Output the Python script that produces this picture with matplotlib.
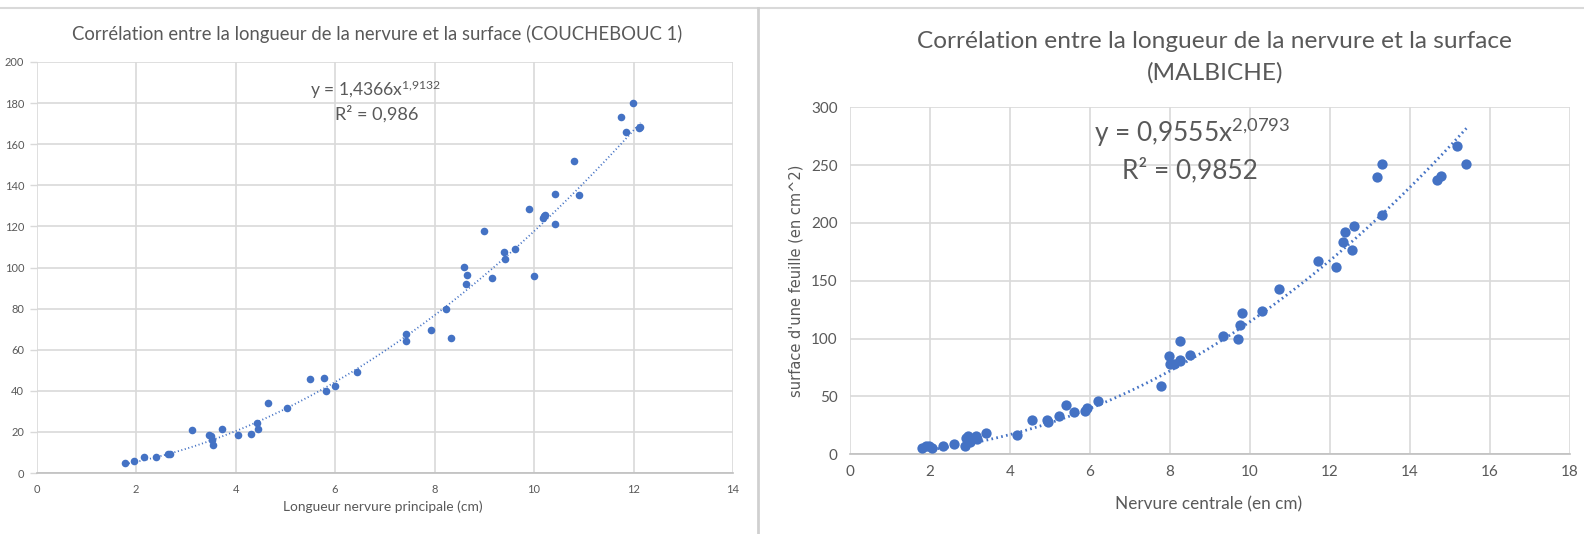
import numpy as np
import matplotlib
matplotlib.use("Agg")
import matplotlib.pyplot as plt
from matplotlib.lines import Line2D

# ---------------- data ----------------
x_couche = [1.78, 1.96, 2.15, 2.40, 2.63, 2.68, 3.13, 3.46, 3.51, 3.52, 3.54, 3.72,
            4.04, 4.31, 4.42, 4.44, 4.66, 5.04, 5.49, 5.78, 5.81, 6.00, 6.45, 7.43,
            7.43, 7.92, 8.22, 8.33, 8.60, 8.64, 8.66, 8.99, 9.16, 9.40, 9.42, 9.61,
            9.90, 9.99, 10.17, 10.20, 10.23, 10.43, 10.43, 10.81, 10.90, 11.75, 11.84,
            11.99, 12.12, 12.14]
y_couche = [5.0, 5.8, 8.0, 8.0, 9.3, 9.3, 20.7, 18.6, 18.1, 16.0, 13.6, 21.4,
            18.6, 19.2, 24.4, 21.4, 34.3, 31.5, 45.6, 46.4, 39.9, 42.1, 49.2, 67.6,
            64.1, 69.8, 79.9, 65.6, 100.4, 91.8, 96.3, 117.6, 94.8, 107.5, 103.9, 108.9,
            128.3, 96.1, 123.9, 124.9, 125.4, 136.0, 121.0, 151.6, 135.4, 173.0, 166.0,
            180.1, 168.0, 168.3]
coef_couche, expo_couche = 1.4366, 1.9132
eq_couche = r"y = 1,4366x$^{1{,}9132}$"
r2_couche = "R² = 0,986"

x_malb = [1.81, 1.89, 1.97, 2.06, 2.33, 2.59, 2.88, 2.91, 2.95, 3.01, 3.14, 3.18,
          3.39, 4.18, 4.56, 4.93, 4.96, 5.22, 5.40, 5.60, 5.88, 5.93, 6.21, 7.78,
          7.98, 7.99, 8.11, 8.24, 8.26, 8.26, 8.49, 9.33, 9.70, 9.76, 9.79, 10.31,
          10.73, 11.71, 12.14, 12.32, 12.37, 12.56, 12.61, 13.17, 13.31, 13.31, 14.67,
          14.78, 15.17, 15.41]
y_malb = [5.6, 7.4, 7.4, 5.6, 7.4, 9.1, 7.4, 13.8, 15.6, 10.3, 15.6, 13.2,
          18.5, 17.1, 30.0, 30.0, 27.9, 33.2, 42.6, 36.2, 37.4, 39.7, 46.2, 58.8,
          85.0, 77.9, 77.9, 80.9, 97.6, 81.5, 86.2, 102.4, 99.4, 111.8, 121.8, 123.5,
          142.6, 166.8, 162.1, 183.2, 192.6, 176.5, 197.6, 239.4, 206.8, 250.6, 237.4,
          240.9, 266.8, 250.9]
coef_malb, expo_malb = 0.9555, 2.0793
eq_malb = r"y = 0,9555x$^{2{,}0793}$"
r2_malb = "R² = 0,9852"

title_couche = "Corrélation entre la longueur de la nervure et la surface (COUCHEBOUC 1)"
title_malb_1 = "Corrélation entre la longueur de la nervure et la surface"
title_malb_2 = "(MALBICHE)"
xlabel_couche = "Longueur nervure principale (cm)"
xlabel_malb = "Nervure centrale (en cm)"
ylabel_malb = "surface d'une feuille (en cm^2)"

# ---------------- style ----------------
BLUE = "#4472C4"
TXT = "#595959"
GRID = "#D9D9D9"
FONT = "Lato"
plt.rcParams["font.family"] = [FONT, "DejaVu Sans"]
plt.rcParams["mathtext.fontset"] = "custom"
plt.rcParams["mathtext.rm"] = FONT
plt.rcParams["mathtext.it"] = FONT
plt.rcParams["mathtext.default"] = "regular"

W, H = 1584, 534
fig = plt.figure(figsize=(W / 100, H / 100), dpi=100)
renderer = fig.canvas.get_renderer()


def ax_rect(x0, y0, x1, y1):
    return [x0 / W, 1 - y1 / H, (x1 - x0) / W, (y1 - y0) / H]


def fit(t, target, vertical=False):
    """Scale a text's font size so its extent matches the target size (px)."""
    for _ in range(3):
        bb = t.get_window_extent(renderer)
        cur = bb.height if vertical else bb.width
        t.set_fontsize(t.get_fontsize() * target / cur)
    return t


def ftext(xc, yc, s, target, vertical=False, **kw):
    t = fig.text(xc / W, 1 - yc / H, s, ha="center", va="center", color=TXT,
                 rotation=90 if vertical else 0, **kw)
    return fit(t, target, vertical)


def style_axes(ax, xmax, ymax, xstep, ystep, fs, yticks_out):
    ax.set_xlim(0, xmax)
    ax.set_ylim(0, ymax)
    ax.set_xticks(np.arange(0, xmax + 0.1, xstep))
    ax.set_yticks(np.arange(0, ymax + 0.1, ystep))
    ax.grid(True, color=GRID, linewidth=1.2, zorder=0)
    ax.set_axisbelow(True)
    for s in ["top", "right", "left"]:
        ax.spines[s].set_visible(False)
    ax.spines["bottom"].set_color("#BFBFBF")
    ax.spines["bottom"].set_linewidth(1.2)
    ax.tick_params(axis="x", length=0, labelsize=fs, labelcolor=TXT, pad=8)
    if yticks_out:
        ax.tick_params(axis="y", length=5, width=1.0, color=GRID, labelsize=fs,
                       labelcolor=TXT, pad=4)
    else:
        ax.tick_params(axis="y", length=0, labelsize=fs, labelcolor=TXT, pad=9)


# chart frames
fig.add_artist(Line2D([0, 1], [1 - 7.5 / H, 1 - 7.5 / H], color="#D9D9D9", lw=1.5))
fig.add_artist(Line2D([757.5 / W, 757.5 / W], [0, 1 - 7.5 / H], color="#D0D0D0", lw=2.0))

# ---------------- left chart ----------------
ax1 = fig.add_axes(ax_rect(36.7, 62, 733, 473))
style_axes(ax1, 14, 200, 2, 20, 8, True)
ax1.scatter(x_couche, y_couche, s=30, color=BLUE, zorder=3, linewidths=0)
xt = np.linspace(min(x_couche), max(x_couche), 200)
ax1.plot(xt, coef_couche * xt ** expo_couche, color=BLUE, lw=1.3,
         linestyle=(0, (0.6, 1.4)), zorder=2)
ftext(377.6, 33.5, title_couche, 612)
ftext(383, 507, xlabel_couche, 200)
ftext(376, 90, eq_couche, 132)
ftext(377, 113.5, r2_couche, 83)

# ---------------- right chart ----------------
ax2 = fig.add_axes(ax_rect(850, 107.3, 1570, 454.3))
style_axes(ax2, 18, 300, 2, 50, 11, False)
ax2.scatter(x_malb, y_malb, s=55, color=BLUE, zorder=3, linewidths=0)
xt2 = np.linspace(min(x_malb), max(x_malb), 200)
ax2.plot(xt2, coef_malb * xt2 ** expo_malb, color=BLUE, lw=2.0,
         linestyle=(0, (0.6, 1.2)), zorder=2)
ftext(1214.5, 41, title_malb_1, 589)
t2 = fig.text(1215 / W, 1 - 72.5 / H, title_malb_2, ha="center", va="center", color=TXT)
t2.set_fontsize(fig.texts[-2].get_fontsize())
ftext(1209, 504.5, xlabel_malb, 188)
ftext(796, 281, ylabel_malb, 233, vertical=True, family="DejaVu Sans")
ftext(1192, 133, eq_malb, 196)
ftext(1190, 170, r2_malb, 136)

fig.savefig("out.png", dpi=100)
